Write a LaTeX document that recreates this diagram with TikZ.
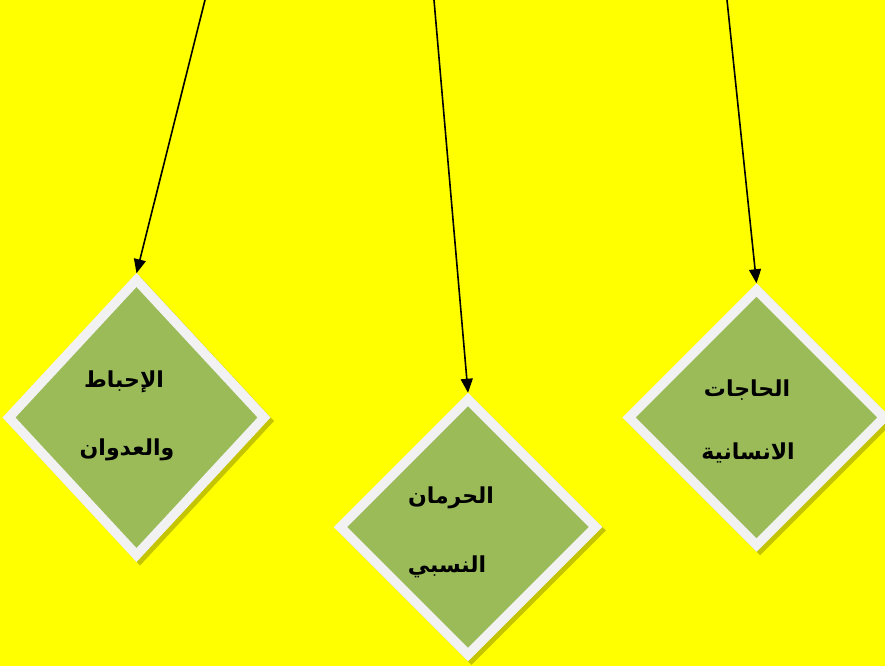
\documentclass[tikz,border=0pt]{standalone}
\usepackage{fontspec}
\TeXXeTstate=1
\newfontfamily\arabicfont[Script=Arabic]{DejaVu Sans}
\usetikzlibrary{shapes.geometric,shadows,arrows.meta}
\definecolor{bgyellow}{HTML}{FFFF00}
\definecolor{boxgreen}{HTML}{9BBB59}
\definecolor{boxrim}{HTML}{F2F2F2}
\definecolor{shadowolive}{HTML}{C4C400}
\begin{document}
\begin{tikzpicture}[x=1pt,y=-1pt,
  gem/.style={diamond, inner sep=0pt, fill=boxgreen, draw=boxrim,
    line width=9.5pt, line join=miter,
    drop shadow={shadow xshift=3.5pt, shadow yshift=-3.5pt, fill=shadowolive,
      draw=shadowolive, line width=9.5pt, opacity=1}},
  lbl/.style={font=\arabicfont\bfseries\fontsize{22}{26}\selectfont, text=black, inner sep=0pt},
  pointer/.style={draw=black, line width=1.6pt, -{Triangle[length=14pt,width=12pt]}}]
\fill[bgyellow] (0,0) rectangle (885,666);
\useasboundingbox (0,0) rectangle (885,666);

\node[gem, minimum width=259pt, minimum height=279pt] (d1) at (136.5,417.5) {};
\node[gem, minimum width=259pt, minimum height=259pt] (d2) at (468,527) {};
\node[gem, minimum width=259pt, minimum height=259pt] (d3) at (756.5,417.5) {};

\node[lbl] (t1a) at (124,382) {\beginR الإحباط\endR};
\node[lbl] (t1b) at (127,450) {\beginR والعدوان\endR};
\node[lbl] (t2a) at (451,498) {\beginR الحرمان\endR};
\node[lbl] (t2b) at (447,567) {\beginR النسبي\endR};
\node[lbl] (t3a) at (747,390) {\beginR الحاجات\endR};
\node[lbl] (t3b) at (748,453) {\beginR الانسانية\endR};

\coordinate (s1) at (205,0);
\coordinate (s2) at (434,0);
\coordinate (s3) at (727,0);
\draw[pointer] (s1) -- (d1.north);
\draw[pointer] (s2) -- (d2.north);
\draw[pointer] (s3) -- (d3.north);
\end{tikzpicture}
\end{document}
